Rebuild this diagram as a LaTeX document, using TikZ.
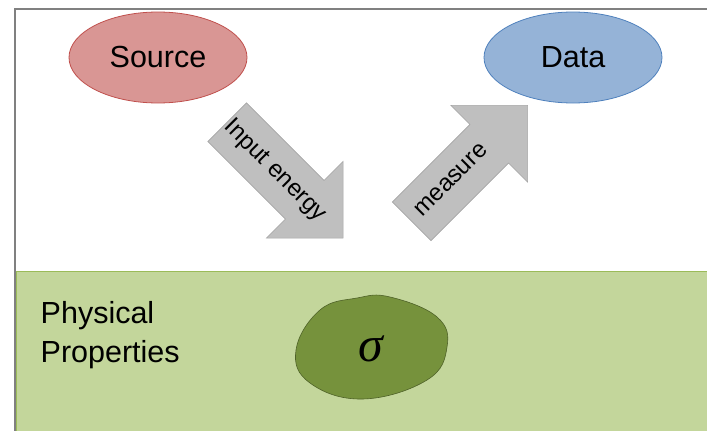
\documentclass[tikz,border=0pt]{standalone}
\usepackage{fontspec}
\setmainfont{Liberation Sans}
\newfontfamily\greekserif{Liberation Serif}
\usetikzlibrary{shapes.geometric,shapes.arrows}
\definecolor{srcfill}{HTML}{D99694}
\definecolor{srcline}{HTML}{C0504D}
\definecolor{datfill}{HTML}{95B3D7}
\definecolor{datline}{HTML}{4F81BD}
\definecolor{arrfill}{HTML}{BFBFBF}
\definecolor{arrline}{HTML}{A6A6A6}
\definecolor{propfill}{HTML}{C3D69B}
\definecolor{propline}{HTML}{9BBB59}
\definecolor{lumpfill}{HTML}{76923C}
\definecolor{lumpline}{HTML}{4F6228}
\definecolor{framegray}{HTML}{808080}
\begin{document}
\begin{tikzpicture}[x=1pt, y=-1pt,
  oval/.style={ellipse, minimum width=178pt, minimum height=91pt, inner sep=0pt, line width=0.8pt, font=\fontsize{30.5}{36}\selectfont},
  flow/.style={single arrow, fill=arrfill, draw=arrline, line width=0.6pt, single arrow tip angle=90, single arrow head extend=27pt, minimum width=108pt, minimum height=164pt, inner xsep=0pt, inner ysep=27pt},
  flowtext/.style={inner sep=0pt, font=\fontsize{24}{28}\selectfont}]
\useasboundingbox (0,0) rectangle (707,431);
% lower band
\filldraw[fill=propfill, draw=propline, line width=1pt] (16.5,271.5) rectangle (708,432);
\draw[framegray, line width=2pt] (15,432) -- (15,8.5) -- (708,8.5);
% top row
\node[oval, fill=srcfill, draw=srcline] (source) at (158,57.5) {Source};
\node[oval, fill=datfill, draw=datline] (data) at (573,57.5) {Data};
\node[flow, rotate=-45] (energy) at (275.5,170.5) {};
\node[flow, rotate=45] (measure) at (460,173) {};
\node[flowtext, rotate=-45] (energytext) at (275,171) {Input energy};
\node[flowtext, rotate=45] (measuretext) at (451,180) {measure};
% physical properties
\node[anchor=base west, align=left, inner sep=0pt, font=\fontsize{30.5}{39}\selectfont] (props) at (40.5,362) {Physical\\Properties};
\filldraw[fill=lumpfill, draw=lumpline, line width=0.6pt] plot[smooth cycle, tension=0.7] coordinates {(390,297) (437,317) (447,347) (427,380) (363,399) (310,383) (296,350) (320,310) (357,298)};
\node[inner sep=0pt, font=\fontsize{50}{50}\selectfont\greekserif\itshape] (sigma) at (371,349) {σ};
\end{tikzpicture}
\end{document}
